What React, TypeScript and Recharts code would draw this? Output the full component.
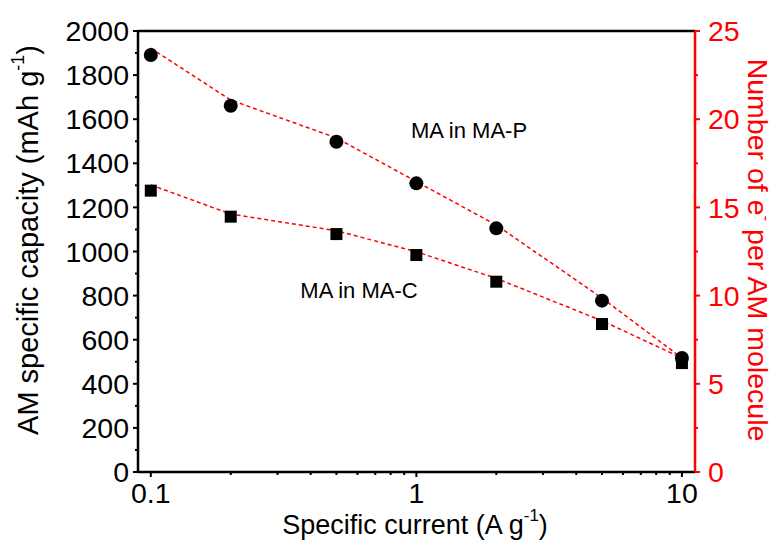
import {
  ComposedChart, Line, XAxis, YAxis, ReferenceLine, Customized,
} from "recharts";

// specific current (A g-1), log scale
const CURRENTS = [0.1, 0.2, 0.5, 1, 2, 5, 10];
// AM specific capacity (mAh g-1)
const MA_IN_MA_P = [1891, 1661, 1498, 1309, 1105, 777, 517];
const MA_IN_MA_C = [1276, 1158, 1079, 984, 863, 671, 494];
// red dotted guide lines
const GUIDE_P = [1922, 1687, 1515, 1317, 1120, 789, 517];
const GUIDE_C = [1302, 1170, 1094, 999, 878, 686, 517];

const X_TICKS = [0.1, 0.2, 0.3, 0.4, 0.5, 0.6, 0.7, 0.8, 0.9, 1, 2, 3, 4, 5, 6, 7, 8, 9, 10];
const X_LABELS = [0.1, 1, 10];
const LEFT_TICKS = [0, 100, 200, 300, 400, 500, 600, 700, 800, 900, 1000,
  1100, 1200, 1300, 1400, 1500, 1600, 1700, 1800, 1900, 2000];
const LEFT_LABELS = [0, 200, 400, 600, 800, 1000, 1200, 1400, 1600, 1800, 2000];
const RIGHT_TICKS = [0, 2.5, 5, 7.5, 10, 12.5, 15, 17.5, 20, 22.5, 25];
const RIGHT_LABELS = [0, 5, 10, 15, 20, 25];

const FONT = '"Liberation Sans", Arial, sans-serif';
const RED = "#ff0000";
const TICK_FONT = 28.5;

const rows = CURRENTS.map((x, i) => ({
  x, p: MA_IN_MA_P[i], c: MA_IN_MA_C[i], gp: GUIDE_P[i], gc: GUIDE_C[i],
}));

function XTick(props: any) {
  const { x, y, payload } = props;
  const major = X_LABELS.includes(payload.value);
  return (
    <g>
      <line x1={x} y1={y} x2={x} y2={y + (major ? 5 : 3)} stroke="#000" strokeWidth={2} />
      {major && (
        <text x={x} y={y + 21} dy="0.355em" textAnchor="middle" fontSize={TICK_FONT} fontFamily={FONT} fill="#000">
          {payload.value}
        </text>
      )}
    </g>
  );
}

function LeftTick(props: any) {
  const { x, y, payload } = props;
  const major = LEFT_LABELS.includes(payload.value);
  return (
    <g>
      <line x1={x} y1={y} x2={x - (major ? 5 : 3)} y2={y} stroke="#000" strokeWidth={2} />
      {major && (
        <text x={x - 9} y={y} dy="0.355em" textAnchor="end" fontSize={TICK_FONT} fontFamily={FONT} fill="#000">
          {payload.value}
        </text>
      )}
    </g>
  );
}

function RightTick(props: any) {
  const { x, y, payload } = props;
  const major = RIGHT_LABELS.includes(payload.value);
  return (
    <g>
      <line x1={x} y1={y} x2={x + (major ? 5 : 3)} y2={y} stroke={RED} strokeWidth={2} />
      {major && (
        <text x={x + 13} y={y} dy="0.355em" textAnchor="start" fontSize={TICK_FONT} fontFamily={FONT} fill={RED}>
          {payload.value}
        </text>
      )}
    </g>
  );
}

const circleDot = (props: any) => (
  <circle key={`p${props.index}`} cx={props.cx} cy={props.cy} r={7} fill="#000" />
);
const squareDot = (props: any) => (
  <rect key={`c${props.index}`} x={props.cx - 6} y={props.cy - 6} width={12} height={12} fill="#000" />
);

function Titles() {
  return (
    <g fontFamily={FONT}>
      <text x={28} y={240} transform="rotate(-90, 28, 240)" textAnchor="middle" dominantBaseline="central" fontSize={29} fill="#000">
        AM specific capacity (mAh g<tspan dy={-10} fontSize={18}>-1</tspan><tspan dy={10}>)</tspan>
      </text>
      <text x={758} y={250} transform="rotate(90, 758, 250)" textAnchor="middle" dominantBaseline="central" fontSize={28.5} fill={RED}>
        Number of e<tspan dy={-9} fontSize={17}>-</tspan><tspan dy={9}> per AM molecule</tspan>
      </text>
      <text x={415} y={525} textAnchor="middle" dominantBaseline="central" fontSize={27} fill="#000">
        Specific current (A g<tspan dy={-10} fontSize={17}>-1</tspan><tspan dy={10}>)</tspan>
      </text>
      <text x={469} y={130} textAnchor="middle" dominantBaseline="central" fontSize={22} fill="#000">MA in MA-P</text>
      <text x={359} y={290} textAnchor="middle" dominantBaseline="central" fontSize={22} fill="#000">MA in MA-C</text>
    </g>
  );
}

export default function App() {
  return (
    <div style={{ width: 778, height: 547, background: "#fff" }}>
      <style>{"body{margin:0}"}</style>
      <ComposedChart width={778} height={547} data={rows} margin={{ top: 31, right: 23, bottom: 35, left: 78 }}>
        <XAxis dataKey="x" type="number" scale="log" domain={[0.0895, 11.2]} allowDataOverflow
          ticks={X_TICKS} interval={0} tick={XTick} tickLine={false} tickSize={0} tickMargin={0}
          axisLine={{ stroke: "#000", strokeWidth: 2.5 }} height={40} />
        <YAxis yAxisId="left" domain={[0, 2000]} ticks={LEFT_TICKS} interval={0} tick={LeftTick}
          tickLine={false} tickSize={0} tickMargin={0} width={60}
          axisLine={{ stroke: "#000", strokeWidth: 2.5 }} />
        <YAxis yAxisId="right" orientation="right" domain={[0, 25]} ticks={RIGHT_TICKS} interval={0}
          tick={RightTick} tickLine={false} tickSize={0} tickMargin={0} width={60} allowDataOverflow
          axisLine={{ stroke: RED, strokeWidth: 2.5 }} />
        <ReferenceLine yAxisId="left" y={2000} stroke="#000" strokeWidth={2.5} />
        <Line yAxisId="left" dataKey="p" stroke="none" dot={circleDot} activeDot={false} isAnimationActive={false} />
        <Line yAxisId="left" dataKey="c" stroke="none" dot={squareDot} activeDot={false} isAnimationActive={false} />
        <Line yAxisId="left" type="linear" dataKey="gp" stroke={RED} strokeWidth={1.5} strokeDasharray="4 3"
          dot={false} activeDot={false} isAnimationActive={false} />
        <Line yAxisId="left" type="linear" dataKey="gc" stroke={RED} strokeWidth={1.5} strokeDasharray="4 3"
          dot={false} activeDot={false} isAnimationActive={false} />
        <Customized component={Titles} />
      </ComposedChart>
    </div>
  );
}
